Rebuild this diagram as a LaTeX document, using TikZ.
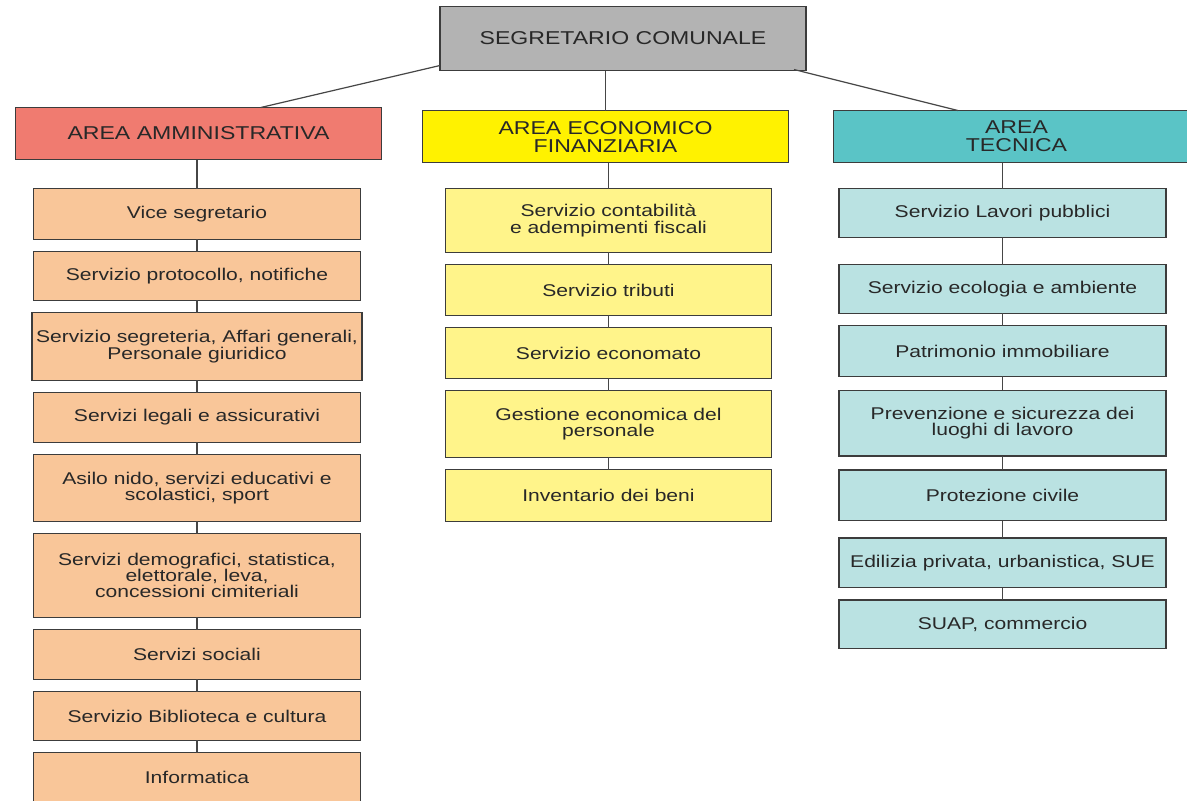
\documentclass[tikz,border=0pt]{standalone}
\usepackage{fontspec}
\setmainfont{Liberation Sans}[FakeStretch=1.24]
\usepackage{xcolor}
\usepackage{tikz}
\usetikzlibrary{positioning,calc}

\definecolor{segfill}{RGB}{179,179,179}
\definecolor{admhead}{RGB}{240,123,112}
\definecolor{ecohead}{RGB}{255,242,0}
\definecolor{techead}{RGB}{90,196,198}
\definecolor{admfill}{RGB}{249,198,153}
\definecolor{ecofill}{RGB}{255,244,138}
\definecolor{tecfill}{RGB}{186,226,226}
\definecolor{boxline}{RGB}{60,60,60}
\definecolor{linegray}{RGB}{70,70,70}
\definecolor{textgray}{RGB}{40,40,40}

\begin{document}
\begin{tikzpicture}[
    x=0.5pt, y=0.5pt,
    node distance=6.2pt,
    box/.style={rectangle, draw=boxline, line width=0.7pt, outer sep=0pt, align=center, text=textgray, font=\fontsize{8.5}{8.2}\selectfont, inner sep=2pt},
    headbox/.style={box, minimum width=183pt, minimum height=26pt, font=\fontsize{9.3}{9}\selectfont},
    ablock/.style={box, fill=admfill, minimum width=163.5pt, minimum height=24.8pt},
    eblock/.style={box, fill=ecofill, minimum width=163pt, minimum height=25.3pt},
    tblock/.style={box, fill=tecfill, minimum width=163.5pt, minimum height=25.3pt},
    link/.style={draw=linegray, line width=0.6pt}
]
\clip (0,0) rectangle (1187,-800);
\fill[white] (0,0) rectangle (1187,-800);

% Top
\node[headbox, fill=segfill, minimum height=32pt] (sc) at (623,-38.5) {SEGRETARIO COMUNALE};

% Area heads
\node[headbox, fill=admhead] (am) at (198.5,-133.5) {AREA AMMINISTRATIVA};
\node[headbox, fill=ecohead] (ec) at (605.5,-136.5) {AREA ECONOMICO\\FINANZIARIA};
\node[headbox, fill=techead] (tc) at (1016.5,-136.5) {AREA\\TECNICA};
\draw[link] ($(sc.south west)+(0,2.5pt)$) -- ($(am.north west)!0.67!(am.north east)$);
\draw[link] (sc.south -| ec.north) -- (ec.north);
\draw[link] ($(sc.south east)+(-6pt,0.5pt)$) -- ($(tc.north west)!0.34!(tc.north east)$);

% Amministrativa column
\node[ablock, minimum height=25.3pt] (a1) at (197,-214) {Vice segretario};
\node[ablock, below=of a1, minimum height=24.3pt] (a2) {Servizio protocollo, notifiche};
\node[ablock, below=of a2, minimum height=33.8pt] (a3) {Servizio segreteria, Affari generali,\\Personale giuridico};
\node[ablock, below=of a3] (a4) {Servizi legali e assicurativi};
\node[ablock, below=of a4, minimum height=33.3pt] (a5) {Asilo nido, servizi educativi e\\scolastici, sport};
\node[ablock, below=of a5, minimum height=41.8pt] (a6) {Servizi demografici, statistica,\\elettorale, leva,\\concessioni cimiteriali};
\node[ablock, below=of a6] (a7) {Servizi sociali};
\node[ablock, below=of a7, minimum height=24.3pt] (a8) {Servizio Biblioteca e cultura};
\node[ablock, below=of a8] (a9) {Informatica};
\draw[link] (a1.north |- am.south) -- (a1); \draw[link] (a1)--(a2); \draw[link] (a2)--(a3); \draw[link] (a3)--(a4);
\draw[link] (a4)--(a5); \draw[link] (a5)--(a6); \draw[link] (a6)--(a7); \draw[link] (a7)--(a8); \draw[link] (a8)--(a9);

% Economico finanziaria column
\node[eblock, minimum height=31.8pt] (m1) at (608.5,-220.5) {Servizio contabilità\\e adempimenti fiscali};
\node[eblock, below=of m1] (m2) {Servizio tributi};
\node[eblock, below=of m2] (m3) {Servizio economato};
\node[eblock, below=of m3, minimum height=33.3pt] (m4) {Gestione economica del\\personale};
\node[eblock, below=of m4, minimum height=25.8pt] (m5) {Inventario dei beni};
\draw[link] (m1.north |- ec.south) -- (m1); \draw[link] (m1)--(m2); \draw[link] (m2)--(m3); \draw[link] (m3)--(m4); \draw[link] (m4)--(m5);

% Tecnica column
\node[tblock, minimum height=24.3pt] (t1) at (1002.5,-213) {Servizio Lavori pubblici};
\node[tblock, below=13.7pt of t1, minimum height=24.3pt] (t2) {Servizio ecologia e ambiente};
\node[tblock, below=of t2] (t3) {Patrimonio immobiliare};
\node[tblock, below=7pt of t3, minimum height=32.8pt] (t4) {Prevenzione e sicurezza dei\\luoghi di lavoro};
\node[tblock, below=7pt of t4] (t5) {Protezione civile};
\node[tblock, below=8.7pt of t5, minimum height=24.8pt] (t6) {Edilizia privata, urbanistica, SUE};
\node[tblock, below=of t6, minimum height=24.3pt] (t7) {SUAP, commercio};
\draw[link] (t1.north |- tc.south) -- (t1); \draw[link] (t1)--(t2); \draw[link] (t2)--(t3); \draw[link] (t3)--(t4);
\draw[link] (t4)--(t5); \draw[link] (t5)--(t6); \draw[link] (t6)--(t7);

\end{tikzpicture}
\end{document}
